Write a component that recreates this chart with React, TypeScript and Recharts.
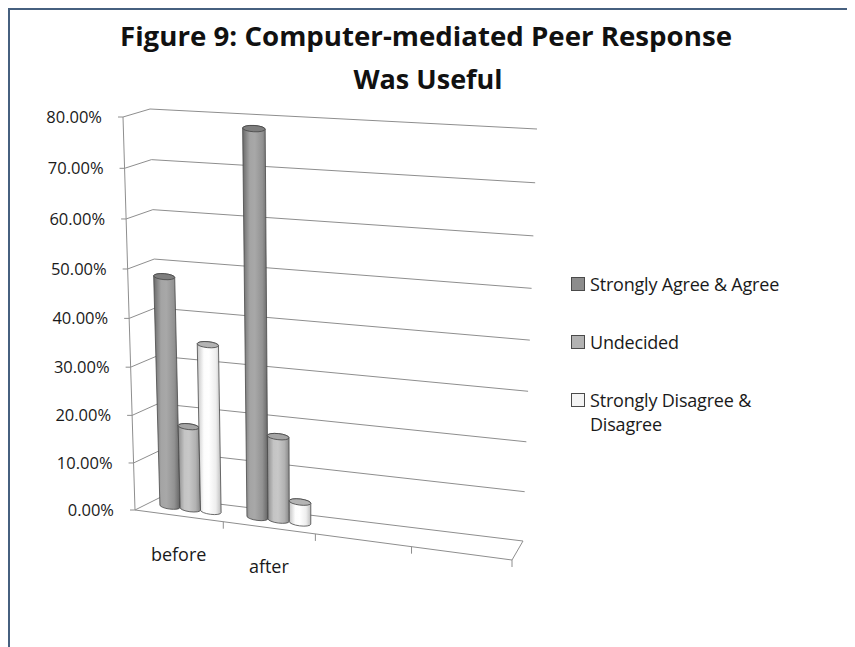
import React from 'react';
import { BarChart, Bar, XAxis, YAxis, CartesianGrid, Legend } from 'recharts';

// ---- data ----
const categories = ['before', 'after', '', ''];
const agreeValues = [47.83, 78.26, null, null];
const undecidedValues = [17.39, 17.39, null, null];
const disagreeValues = [34.78, 4.35, null, null];
const seriesNames = ['Strongly Agree & Agree', 'Undecided', 'Strongly Disagree & Disagree'];
const yTicks = [0, 10, 20, 30, 40, 50, 60, 70, 80];
const titleLines = ['Figure 9: Computer-mediated Peer Response', 'Was Useful'];

const data = categories.map((category, i) => ({
  category,
  agree: agreeValues[i],
  undecided: undecidedValues[i],
  disagree: disagreeValues[i],
}));

// ---- flat plot frame used by the scales ----
const W = 844;
const H = 637;
const MARGIN = { top: 100, right: 317, bottom: 100, left: 80 };
const Y_AXIS_W = 40;
const X_AXIS_H = 30;
const L = MARGIN.left + Y_AXIS_W;
const R = W - MARGIN.right;
const T = MARGIN.top;
const B = H - MARGIN.bottom - X_AXIS_H;

const toU = (px: number) => (px - L) / (R - L);
const toV = (py: number) => (B - py) / (B - T);

// ---- 3-D box: corners indexed [x][y][depth] ----
type Pt = [number, number];
const P000: Pt = [125, 500];
const P010: Pt = [113, 107];
const P001: Pt = [151, 487];
const P011: Pt = [140, 99];
const P100: Pt = [502, 550];
const P110: Pt = [518, 131];
const P101: Pt = [513, 531];
const P111: Pt = [527, 119];
const U_FORESHORTEN = 1.09;
const V_FORESHORTEN = 1.051;
const BAR_DEPTH = 0.5;

const warp = (t: number, c: number) => t / (c + (1 - c) * t);
const lerp = (a: Pt, b: Pt, t: number): Pt => [a[0] + (b[0] - a[0]) * t, a[1] + (b[1] - a[1]) * t];

function project(u: number, v: number, z: number): Pt {
  const a = warp(u, U_FORESHORTEN);
  const b = warp(v, V_FORESHORTEN);
  const front = lerp(lerp(P000, P100, a), lerp(P010, P110, a), b);
  const back = lerp(lerp(P001, P101, a), lerp(P011, P111, a), b);
  return lerp(front, back, z);
}
const pt = (p: Pt) => `${p[0].toFixed(2)},${p[1].toFixed(2)}`;

const GRID = '#8e8e8e';
const EDGE = '#474747';
const FONT = '"Open Sans", sans-serif';

const LOOKS = [
  { id: 'cylAgree', swatch: '#8c8c8c', top: '#7e7e7e', stops: ['#6a6a6a', '#a4a4a4', '#a8a8a8', '#929292', '#646464'] },
  { id: 'cylUndecided', swatch: '#b2b2b2', top: '#a4a4a4', stops: ['#8e8e8e', '#c4c4c4', '#c8c8c8', '#b2b2b2', '#878787'] },
  { id: 'cylDisagree', swatch: '#f4f4f4', top: '#b4b4b4', stops: ['#c4c4c4', '#fdfdfd', '#ffffff', '#eeeeee', '#bdbdbd'] },
];

function Cylinder(props: any) {
  const { x, y, width, height, look } = props;
  if (x == null || y == null || !width || height == null || !(height > 0)) return null;
  const u0 = toU(x);
  const u1 = toU(x + width);
  const vt = toV(y);
  const bl = project(u0, 0, BAR_DEPTH);
  const br = project(u1, 0, BAR_DEPTH);
  const tl = project(u0, vt, BAR_DEPTH);
  const tr = project(u1, vt, BAR_DEPTH);
  const rb = Math.hypot(br[0] - bl[0], br[1] - bl[1]) / 2;
  const rt = Math.hypot(tr[0] - tl[0], tr[1] - tl[1]) / 2;
  const angB = (Math.atan2(br[1] - bl[1], br[0] - bl[0]) * 180) / Math.PI;
  const angT = (Math.atan2(tr[1] - tl[1], tr[0] - tl[0]) * 180) / Math.PI;
  const ryB = rb * 0.28;
  const ryT = rt * 0.28;
  const body = `M${pt(tl)} L${pt(bl)} A${rb} ${ryB} ${angB} 0 0 ${pt(br)} L${pt(tr)} A${rt} ${ryT} ${angT} 0 0 ${pt(tl)} Z`;
  const ct = lerp(tl, tr, 0.5);
  return (
    <g>
      <path d={body} fill={`url(#${look.id})`} stroke={EDGE} strokeWidth={0.8} />
      <ellipse
        cx={ct[0]}
        cy={ct[1]}
        rx={rt}
        ry={ryT}
        transform={`rotate(${angT} ${ct[0]} ${ct[1]})`}
        fill={look.top}
        stroke={EDGE}
        strokeWidth={0.8}
      />
    </g>
  );
}

function GridLevel(props: any) {
  const v = toV(props.y1);
  const front = project(0, v, 0);
  const backL = project(0, v, 1);
  const backR = project(1, v, 1);
  const isFloor = Math.abs(v) < 1e-6;
  return (
    <g key={`level-${props.index}`}>
      <polyline points={`${pt(front)} ${pt(backL)} ${pt(backR)}`} fill="none" stroke={GRID} strokeWidth={1} />
      {isFloor && (
        <g>
          <polyline
            points={`${pt(project(0, 0, 0))} ${pt(project(1, 0, 0))} ${pt(project(1, 0, 1))}`}
            fill="none"
            stroke={GRID}
            strokeWidth={1}
          />
          <line
            x1={project(0, 0, 0)[0]}
            y1={project(0, 0, 0)[1]}
            x2={project(0, 1, 0)[0]}
            y2={project(0, 1, 0)[1]}
            stroke={GRID}
            strokeWidth={1}
          />
        </g>
      )}
    </g>
  );
}

function YTick(props: any) {
  const { payload } = props;
  const v = toV(payload.coordinate);
  const p = project(0, v, 0);
  return (
    <g>
      <line x1={p[0] - 5} y1={p[1]} x2={p[0]} y2={p[1]} stroke={GRID} />
      <text x={p[0] - 21} y={p[1]} dy="0.35em" textAnchor="end" fontSize={16.5} fontFamily={FONT} fill="#1a1a1a">
        {`${Number(payload.value).toFixed(2)}%`}
      </text>
    </g>
  );
}

function XTick(props: any) {
  const { payload } = props;
  const uc = toU(payload.coordinate);
  const half = 1 / (2 * categories.length);
  const p = project(uc, 0, 0);
  const e = project(uc + half, 0, 0);
  return (
    <g>
      <line x1={e[0]} y1={e[1]} x2={e[0]} y2={e[1] + 7} stroke={GRID} />
      {payload.value ? (
        <text x={p[0]} y={p[1] + 39} dy="0.35em" textAnchor="middle" fontSize={18} fontFamily={FONT} fill="#1a1a1a">
          {payload.value}
        </text>
      ) : null}
    </g>
  );
}

function LegendBox(props: any) {
  const items = [...(props.payload || [])].sort(
    (a: any, b: any) => seriesNames.indexOf(a.value) - seriesNames.indexOf(b.value),
  );
  return (
    <div style={{ fontFamily: FONT, fontSize: 18, color: '#1a1a1a', lineHeight: '24px' }}>
      {items.map((item: any, i: number) => (
        <div key={i} style={{ display: 'flex', alignItems: 'flex-start', marginBottom: 34 }}>
          <div
            style={{
              width: 12,
              height: 12,
              marginTop: 5,
              marginRight: 5,
              flex: 'none',
              background: item.color,
              border: '1px solid #4a4a4a',
            }}
          />
          <div style={{ width: 225, letterSpacing: '-0.2px' }}>{item.value}</div>
        </div>
      ))}
    </div>
  );
}

export default function App() {
  return (
    <div
      style={{
        position: 'relative',
        width: W,
        height: H,
        borderTop: '2px solid #46607f',
        borderLeft: '2px solid #46607f',
        borderRight: '1px solid #eef1f4',
        background: '#ffffff',
      }}
    >
      <BarChart
        width={W}
        height={H}
        data={data}
        margin={MARGIN}
        barCategoryGap="14%"
        barGap={0}
      >
        <defs>
          {LOOKS.map((look) => (
            <linearGradient key={look.id} id={look.id} x1="0" y1="0" x2="1" y2="0">
              <stop offset="0%" stopColor={look.stops[0]} />
              <stop offset="28%" stopColor={look.stops[1]} />
              <stop offset="48%" stopColor={look.stops[2]} />
              <stop offset="78%" stopColor={look.stops[3]} />
              <stop offset="100%" stopColor={look.stops[4]} />
            </linearGradient>
          ))}
        </defs>
        <CartesianGrid vertical={false} horizontal={(p: any) => <GridLevel {...p} />} />
        <XAxis
          dataKey="category"
          height={X_AXIS_H}
          axisLine={false}
          tickLine={false}
          interval={0}
          tick={<XTick />}
        />
        <YAxis
          width={Y_AXIS_W}
          domain={[0, 80]}
          ticks={yTicks}
          axisLine={false}
          tickLine={false}
          tick={<YTick />}
        />
        <Legend
          layout="vertical"
          align="center"
          verticalAlign="middle"
          wrapperStyle={{ left: 561, top: 262, width: 270 }}
          content={<LegendBox />}
        />
        <Bar dataKey="agree" name={seriesNames[0]} fill={LOOKS[0].swatch} isAnimationActive={false}
          shape={(p: any) => <Cylinder {...p} look={LOOKS[0]} />} />
        <Bar dataKey="undecided" name={seriesNames[1]} fill={LOOKS[1].swatch} isAnimationActive={false}
          shape={(p: any) => <Cylinder {...p} look={LOOKS[1]} />} />
        <Bar dataKey="disagree" name={seriesNames[2]} fill={LOOKS[2].swatch} isAnimationActive={false}
          shape={(p: any) => <Cylinder {...p} look={LOOKS[2]} />} />
      </BarChart>
      <svg
        width={W}
        height={100}
        style={{ position: 'absolute', left: 0, top: 0, pointerEvents: 'none' }}
      >
        <text x={416} y={36} textAnchor="middle" fontFamily={FONT} fontWeight={700} fontSize={27}
          textLength={612} lengthAdjust="spacingAndGlyphs" fill="#111">
          {titleLines[0]}
        </text>
        <text x={418} y={79} textAnchor="middle" fontFamily={FONT} fontWeight={700} fontSize={27} fill="#111">
          {titleLines[1]}
        </text>
      </svg>
    </div>
  );
}
